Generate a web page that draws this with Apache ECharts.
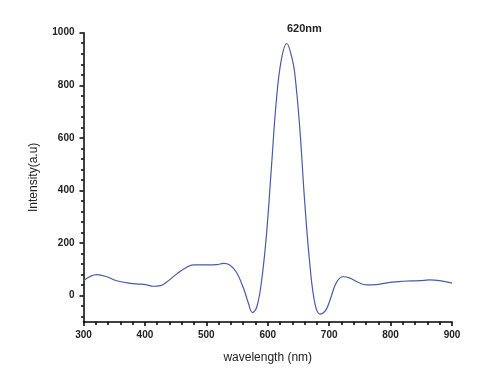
<!DOCTYPE html>
<html><head><meta charset="utf-8">
<script src="https://cdn.jsdelivr.net/npm/echarts@6/dist/echarts.min.js"></script>
<style>html,body{margin:0;padding:0;background:#fff}#c{width:480px;height:369px}</style>
</head><body><div id="c"></div>
<script>
var wavelength = [300,322,338,354,376,392,403,414,425,435,452,468,479,500,517,528,538,549,560,568,575,582,590,598,606,614,622,631,639,644,652,660,669,677,685,694,701,712,723,734,747,761,777,799,820,847,863,880,900];
var intensity = [57,80,72,57,47,44,41,36,38,51,83,108,117,117,118,123,117,89,32,-25,-64,-44,57,235,489,743,896,959,908,845,642,362,108,-32,-70,-57,-19,51,72,67,51,41,42,51,55,57,60,57,48];
var yTickLabels = [0,200,400,600,800,1000];
var yMinorTicks = [];
for (var v = -80; v < 1000; v += 40) if (yTickLabels.indexOf(v) < 0) yMinorTicks.push(v);
var peakLabel = '620nm';
var xName = 'wavelength (nm)';
var yName = 'Intensity(a.u)';

var data = wavelength.map(function(w,i){return [w,intensity[i]];});
var chart = echarts.init(document.getElementById('c'));
var labelStyle = {color:'#222', fontFamily:'Arial, Liberation Sans', fontSize:10, fontWeight:'bold', formatter:function(v){return String(v);}};
chart.setOption({
  animation:false,
  title:{text:peakLabel, left:282, top:18, textStyle:{fontFamily:'Arial, Liberation Sans', fontSize:11, fontWeight:'bold', color:'#222'}},
  grid:{left:83.5, right:28, top:32.7, bottom:47},
  xAxis:{type:'value', min:300, max:900, interval:100,
    name:xName, nameLocation:'middle', nameGap:30,
    nameTextStyle:{fontFamily:'Arial, Liberation Sans', fontSize:12, color:'#222'},
    axisLine:{onZero:false, lineStyle:{color:'#000', width:1.5}},
    axisTick:{length:4, lineStyle:{color:'#000', width:1.5}},
    minorTick:{show:true, splitNumber:5, length:3, lineStyle:{color:'#000', width:1.5}},
    splitLine:{show:false},
    axisLabel:Object.assign({margin:8}, labelStyle)},
  yAxis:[{type:'value', min:-100, max:1000,
    name:yName, nameLocation:'middle', nameGap:44,
    nameTextStyle:{fontFamily:'Arial, Liberation Sans', fontSize:12, color:'#222'},
    axisLine:{show:true, onZero:false, lineStyle:{color:'#000', width:1.5}},
    axisTick:{show:true, customValues:yTickLabels, length:4, lineStyle:{color:'#000', width:1.5}},
    splitLine:{show:false},
    axisLabel:Object.assign({customValues:yTickLabels, margin:9}, labelStyle)},
   {type:'value', min:-100, max:1000, position:'left',
    axisLine:{show:false, onZero:false},
    axisTick:{show:true, customValues:yMinorTicks, length:2.5, lineStyle:{color:'#000', width:1.5}},
    axisLabel:{show:false}, splitLine:{show:false}}],
  series:[{type:'line', data:data, smooth:0.4, showSymbol:false, yAxisIndex:0,
    lineStyle:{color:'#4a5aa8', width:1.2}}]
});
</script></body></html>
